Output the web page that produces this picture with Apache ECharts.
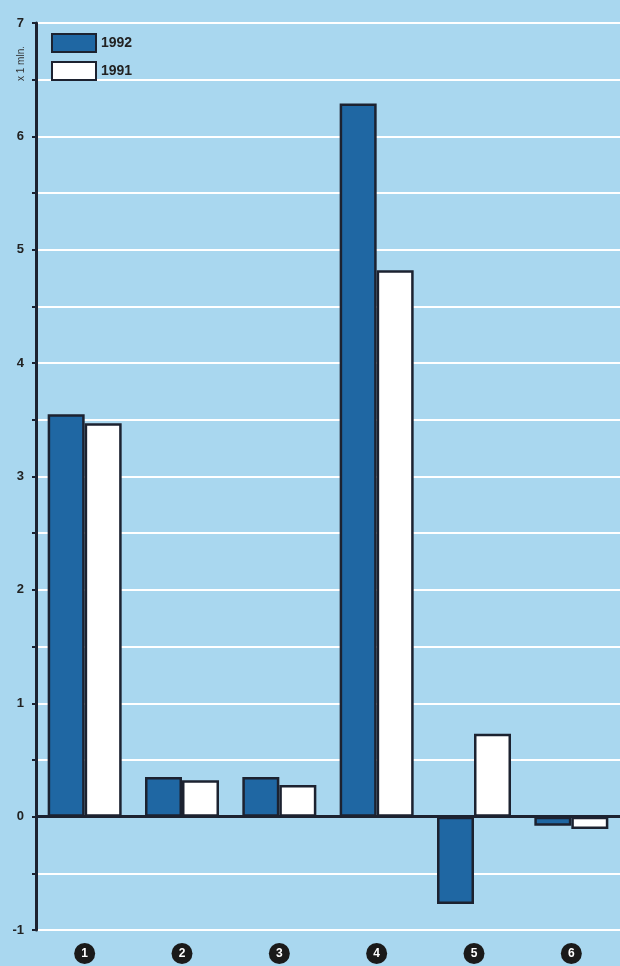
<!DOCTYPE html>
<html><head><meta charset="utf-8">
<script src="https://cdn.jsdelivr.net/npm/echarts@6/dist/echarts.min.js"></script>
<style>html,body{margin:0;padding:0;background:#a9d7ef;}#c{width:620px;height:966px;}</style>
</head><body><div id="c"></div>
<script>
const categories = ['1','2','3','4','5','6'];
const values1992 = [3.55, 0.35, 0.35, 6.29, -0.77, -0.08];
const values1991 = [3.47, 0.32, 0.28, 4.82, 0.73, -0.11];
const yTicks = [-1, 0, 1, 2, 3, 4, 5, 6, 7];
const unitLabel = 'x 1 mln.';

const dark = '#1c2230';
const chart = echarts.init(document.getElementById('c'));
chart.setOption({
  backgroundColor: '#a9d7ef',
  animation: false,
  grid: {left: 36, right: 0, top: 23, bottom: 36},
  legend: {
    orient: 'vertical', left: 46, top: 28, itemWidth: 44, itemHeight: 18, itemGap: 8, icon: 'rect',
    textStyle: {fontFamily: 'Liberation Sans', fontWeight: 'bold', fontSize: 14, color: '#222'},
    data: ['1992', '1991']
  },
  xAxis: {
    type: 'category', data: categories,
    axisLine: {show: false}, axisTick: {show: false}, splitLine: {show: false},
    axisLabel: {
      margin: 13,
      formatter: v => '{c|' + v + '}',
      rich: {c: {backgroundColor: '#1a1a1a', borderRadius: 11, width: 21, height: 21, lineHeight: 21,
        align: 'center', color: '#fff', fontWeight: 'bold', fontSize: 12, fontFamily: 'Liberation Sans'}}
    }
  },
  yAxis: {
    type: 'value', min: -1, max: 7, interval: 0.5,
    axisLine: {show: true, lineStyle: {color: dark, width: 3}},
    axisTick: {show: true, length: 4, lineStyle: {color: dark, width: 2}},
    splitLine: {show: true, lineStyle: {color: '#ffffff', width: 2}},
    axisLabel: {
      margin: 12, color: '#222', fontWeight: 'bold', fontSize: 13, fontFamily: 'Liberation Sans',
      formatter: v => yTicks.indexOf(v) >= 0 ? String(v) : ''
    }
  },
  series: [
    {name: '1992', type: 'bar', data: values1992, barWidth: 37, barGap: '0%',
      itemStyle: {color: '#1f67a3', borderColor: dark, borderWidth: 2.5},
      markLine: {symbol: 'none', silent: true, label: {show: false},
        lineStyle: {color: dark, width: 3, type: 'solid'}, data: [{yAxis: 0}]}},
    {name: '1991', type: 'bar', data: values1991, barWidth: 37,
      itemStyle: {color: '#ffffff', borderColor: dark, borderWidth: 2.5}}
  ],
  graphic: [{
    type: 'text', left: 16, top: 46, rotation: Math.PI / 2,
    style: {text: unitLabel, fontSize: 10, fill: '#333', fontFamily: 'Liberation Sans'}
  }]
});
</script></body></html>
